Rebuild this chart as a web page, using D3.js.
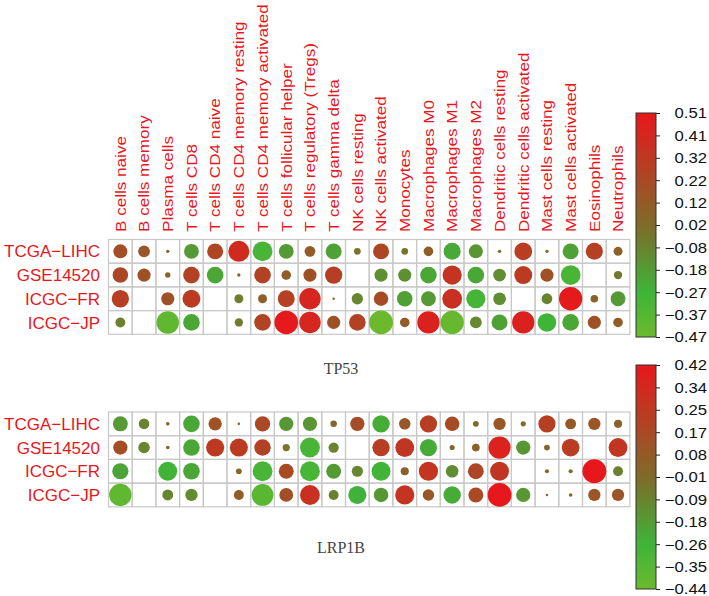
<!DOCTYPE html>
<html>
<head>
<meta charset="utf-8">
<script src="https://cdn.jsdelivr.net/npm/d3@7"></script>
<style>
  body { margin: 0; background: #fff; }
</style>
</head>
<body>
<div id="chart"></div>
<script>
const width = 709;
const height = 596;

const cells = ['B cells naive', 'B cells memory', 'Plasma cells', 'T cells CD8', 'T cells CD4 naive',
  'T cells CD4 memory resting', 'T cells CD4 memory activated', 'T cells follicular helper',
  'T cells regulatory (Tregs)', 'T cells gamma delta', 'NK cells resting', 'NK cells activated',
  'Monocytes', 'Macrophages M0', 'Macrophages M1', 'Macrophages M2', 'Dendritic cells resting',
  'Dendritic cells activated', 'Mast cells resting', 'Mast cells activated', 'Eosinophils', 'Neutrophils'];
const cohorts = ['TCGA\u2212LIHC', 'GSE14520', 'ICGC\u2212FR', 'ICGC\u2212JP'];

// TP53 panel, one array per cohort (null = no value)
const tp53Tcga = [0.19, 0.14, 0.03, -0.17, 0.24, 0.40, -0.32, -0.17, 0.12, -0.20, -0.02, 0.24, -0.02, 0.10, -0.23, -0.15, 0.03, 0.29, 0.03, -0.20, 0.27, 0.09];
const tp53Gse = [0.23, 0.17, 0.045, 0.26, -0.22, 0.03, 0.26, 0.10, 0.17, 0.28, null, -0.13, -0.13, -0.22, 0.34, -0.22, -0.12, 0.30, 0.17, -0.32, null, -0.04];
const tp53Fr = [0.28, null, 0.17, 0.30, null, -0.05, 0.09, 0.27, 0.42, 0.025, -0.09, 0.20, -0.19, -0.17, 0.36, -0.30, -0.12, null, -0.08, 0.49, 0.07, -0.17];
const tp53Jp = [-0.065, null, -0.42, -0.22, null, -0.04, 0.26, 0.50, 0.42, 0.17, 0.26, -0.47, 0.10, 0.45, -0.45, -0.10, -0.20, 0.45, -0.28, -0.22, 0.17, 0.10];
const tp53Range = [-0.47, 0.51];
const tp53Ticks = ['-0.47', '-0.37', '-0.27', '-0.18', '-0.08', '0.02', '0.12', '0.22', '0.32', '0.41', '0.51'];

// LRP1B panel
const lrpTcga = [-0.18, -0.095, 0.0, -0.22, 0.125, -0.005, 0.17, -0.165, -0.165, 0.022, 0.145, -0.24, 0.09, 0.215, 0.15, 0.015, 0.105, 0.01, 0.215, 0.08, 0.105, 0.04];
const lrpGse = [0.145, -0.11, 0.0, -0.22, 0.24, 0.24, 0.195, -0.05, -0.31, -0.09, null, 0.22, 0.26, -0.235, 0.01, 0.035, 0.365, -0.165, 0.015, 0.23, null, 0.26];
const lrpFr = [-0.21, null, -0.28, -0.22, null, 0.015, -0.31, 0.16, -0.31, -0.18, -0.105, -0.28, 0.04, 0.27, -0.13, 0.18, 0.26, null, 0.003, 0.003, 0.42, -0.085];
const lrpJp = [-0.39, null, -0.10, -0.125, null, 0.065, -0.37, 0.135, 0.29, -0.085, -0.26, -0.17, 0.27, 0.09, -0.24, 0.16, 0.42, -0.165, -0.005, 0.0, 0.105, 0.105];
const lrpRange = [-0.44, 0.42];
const lrpTicks = ['-0.44', '-0.35', '-0.26', '-0.18', '-0.09', '-0.01', '0.08', '0.17', '0.25', '0.34', '0.42'];

const svg = d3.select('#chart').append('svg').attr('width', width).attr('height', height);

const sans = '"Liberation Sans", Arial, sans-serif';
const serif = '"Liberation Serif", "Times New Roman", serif';
const labelRed = '#e8161c';
const gridColor = '#c8c8c8';
const cell = 23.7;
const gridLeft = 108.5;

// t in [-1, 1] -> colour
const color = d3.scaleLinear()
  .domain([-1, -0.6, 0, 1])
  .range(['#6cb92d', '#3eb439', '#7f6b2b', '#e8171c'])
  .interpolate(d3.interpolateRgb);
const radius = d3.scaleSqrt().domain([0, 1]).range([0, 11.9]);

const x = d3.scaleBand().domain(d3.range(cells.length)).range([gridLeft, gridLeft + cells.length * cell]);

function panel(rows, range, ticks, top, barTop, barBottom, title, titleY) {
  const y = d3.scaleBand().domain(d3.range(cohorts.length)).range([top, top + cohorts.length * cell]);
  const mid = (range[0] + range[1]) / 2;
  const half = (range[1] - range[0]) / 2;
  const toT = v => (v - mid) / half;

  const g = svg.append('g');
  rows.forEach((vals, r) => {
    vals.forEach((v, c) => {
      g.append('rect')
        .attr('x', x(c)).attr('y', y(r))
        .attr('width', x.bandwidth()).attr('height', y.bandwidth())
        .attr('fill', 'none').attr('stroke', gridColor).attr('stroke-width', 1.2);
    });
  });
  rows.forEach((vals, r) => {
    vals.forEach((v, c) => {
      if (v === null) return;
      const t = toT(v);
      g.append('circle')
        .attr('cx', x(c) + x.bandwidth() / 2)
        .attr('cy', y(r) + y.bandwidth() / 2)
        .attr('r', radius(Math.min(1, Math.abs(t))))
        .attr('fill', color(t));
    });
  });

  g.selectAll('.rowlab').data(cohorts).enter().append('text')
    .attr('x', 100)
    .attr('y', (d, i) => y(i) + y.bandwidth() / 2)
    .attr('dy', '0.36em')
    .attr('text-anchor', 'end')
    .style('font-family', sans)
    .attr('font-size', '17px')
    .attr('fill', labelRed)
    .text(d => d);

  // colour bar
  const id = 'grad' + top;
  const grad = svg.append('defs').append('linearGradient')
    .attr('id', id).attr('x1', 0).attr('y1', 1).attr('x2', 0).attr('y2', 0);
  d3.range(0, 1.0001, 0.05).forEach(o => {
    grad.append('stop').attr('offset', o).attr('stop-color', color(-1 + 2 * o));
  });
  svg.append('rect')
    .attr('x', 636).attr('y', barTop)
    .attr('width', 20).attr('height', barBottom - barTop)
    .attr('fill', `url(#${id})`).attr('stroke', '#333').attr('stroke-width', 1);

  const barScale = d3.scaleLinear().domain([0, ticks.length - 1]).range([barBottom, barTop]);
  const axis = svg.append('g')
    .attr('transform', 'translate(656,0)')
    .call(d3.axisRight(barScale).tickValues(d3.range(ticks.length)).tickSize(4)
      .tickFormat(i => ticks[i].replace('-', '\u2212')));
  axis.select('.domain').remove();
  axis.selectAll('line').attr('stroke', '#222');
  axis.selectAll('text')
    .attr('text-anchor', 'end')
    .attr('x', 0).attr('dy', '0.34em')
    .attr('transform', 'translate(51,0) scale(1.15,1)')
    .attr('font-size', '14.5px')
    .style('font-family', sans)
    .attr('fill', '#111');

  svg.append('text')
    .attr('x', 341).attr('y', titleY)
    .attr('text-anchor', 'middle')
    .style('font-family', serif)
    .attr('font-size', '16px')
    .attr('fill', '#444')
    .text(title);
}

// column labels (top only)
svg.selectAll('.collab').data(cells).enter().append('text')
  .attr('transform', (d, i) => `translate(${x(i) + x.bandwidth() / 2 + 5.3},232) rotate(-90) scale(1.14,1)`)
  .style('font-family', sans)
  .attr('font-size', '15px')
  .attr('fill', labelRed)
  .text(d => d);

panel([tp53Tcga, tp53Gse, tp53Fr, tp53Jp], tp53Range, tp53Ticks, 239.5, 113, 337, 'TP53', 374);
panel([lrpTcga, lrpGse, lrpFr, lrpJp], lrpRange, lrpTicks, 412, 365, 589, 'LRP1B', 553);
</script>
</body>
</html>
